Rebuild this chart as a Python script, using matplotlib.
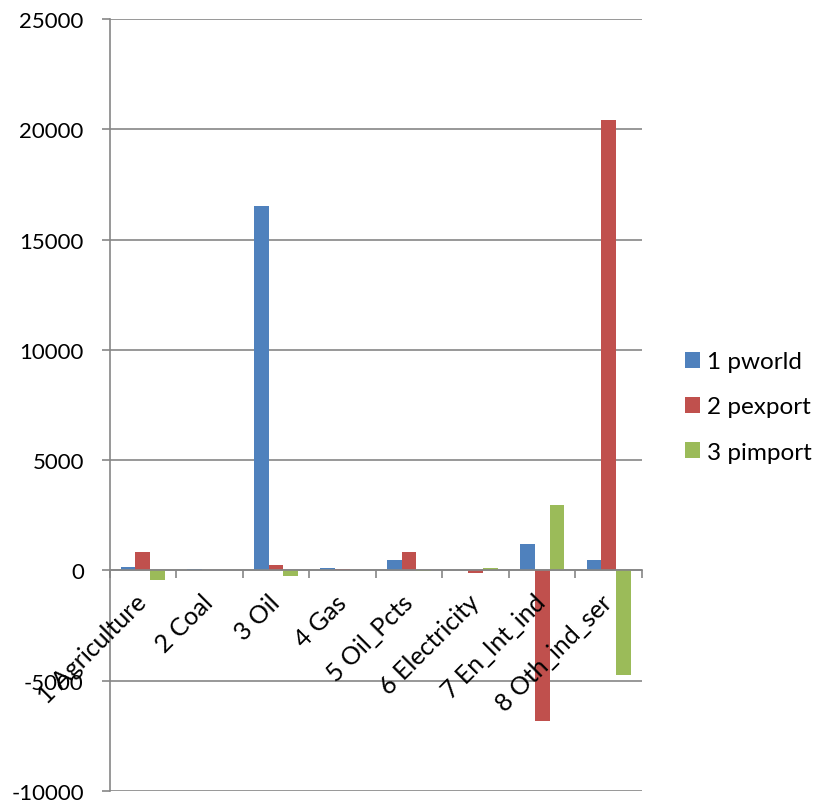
import numpy as np
import matplotlib
matplotlib.use("Agg")
import matplotlib.pyplot as plt

plt.rcParams['font.family'] = ['Lato', 'DejaVu Sans']

categories = ["1 Agriculture", "2 Coal", "3 Oil", "4 Gas", "5 Oil_Pcts",
              "6 Electricity", "7 En_Int_ind", "8 Oth_ind_ser"]
series_names = ["1 pworld", "2 pexport", "3 pimport"]
pworld = [150, 80, 16500, 100, 490, 0, 1180, 485]
pexport = [830, 0, 230, 60, 850, -120, -6830, 20400]
pimport = [-420, 0, -260, 0, -20, 120, 2960, -4760]
colors = ["#4F81BD", "#C0504D", "#9BBB59"]
yticks = [-10000, -5000, 0, 5000, 10000, 15000, 20000, 25000]

fig = plt.figure(figsize=(8.16, 8.04), dpi=100)
ax = fig.add_axes([109.5 / 816, 1 - 792 / 804, (642 - 109.5) / 816, (792 - 20) / 804])

n = len(categories)
x = np.arange(n) + 0.5
bw = 1 / 4.5
for i, (vals, c, name) in enumerate(zip([pworld, pexport, pimport], colors, series_names)):
    ax.bar(x + (i - 1) * bw, vals, width=bw, color=c, label=name, zorder=3)

ax.set_xlim(0, n)
ax.set_ylim(-10000, 25000)
ax.set_yticks(yticks)
ax.set_yticklabels([str(v) for v in yticks])
ax.yaxis.grid(True, color="#868686", linewidth=1.2)
ax.tick_params(axis='y', length=5.5, width=1.2, color="#868686", pad=13, labelsize=16)

for s in ["top", "right"]:
    ax.spines[s].set_visible(False)
ax.spines["left"].set_color("#868686")
ax.spines["left"].set_linewidth(1.2)
ax.spines["bottom"].set_position(("data", 0))
ax.spines["bottom"].set_color("#868686")
ax.spines["bottom"].set_linewidth(1.2)
ax.spines["bottom"].set_zorder(4)

# category boundaries carry the tick marks; labels sit at category centres
ax.set_xticks(np.arange(n + 1))
ax.set_xticklabels([])
ax.tick_params(axis='x', which='major', length=5.5, width=1.2, color="#868686")
ax.set_xticks(x, minor=True)
ax.set_xticklabels(categories, minor=True, rotation=45, ha='right',
                   va='center', rotation_mode='anchor', fontsize=18)
ax.tick_params(axis='x', which='minor', length=0, pad=20)
# category labels are drawn over the bars
ax.xaxis.set_zorder(3.5)

ax.legend(loc='center left', bbox_to_anchor=(685 / 816, 1 - 408 / 804),
          bbox_transform=fig.transFigure, frameon=False,
          fontsize=17.5, handlelength=0.62, handleheight=0.62,
          handletextpad=0.28, labelspacing=1.0, borderpad=0, borderaxespad=0)

fig.savefig("out.png", dpi=100)
